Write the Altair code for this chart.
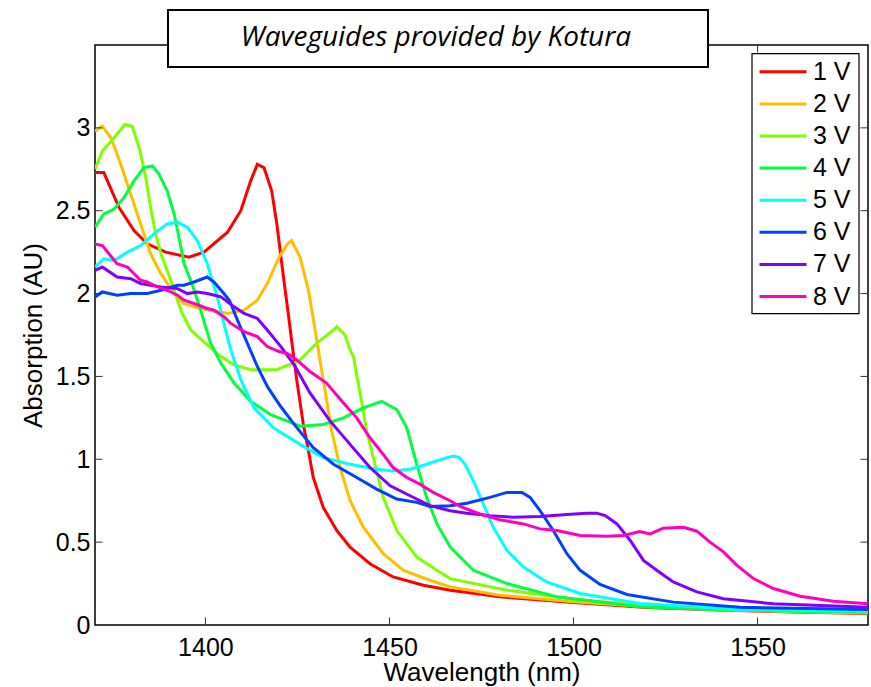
import altair as alt
import pandas as pd

# Absorption spectra of the Kotura waveguides at eight bias voltages
wl_1v = [1370, 1372.4, 1376.5, 1380.6, 1384.2, 1389.2, 1395.5, 1399.6, 1406, 1409.6, 1412.3, 1414.1,
         1415.9, 1418, 1419.4, 1421.2, 1422.5, 1423.4, 1424.8, 1426.6, 1428, 1429.3, 1432, 1435.7,
         1439.3, 1444.7, 1451, 1459.2, 1466.5, 1480, 1500, 1520, 1540, 1560, 1580]
ab_1v = [2.73, 2.73, 2.52, 2.38, 2.30, 2.25, 2.22, 2.25, 2.37, 2.50, 2.68, 2.78,
         2.76, 2.62, 2.42, 2.10, 1.88, 1.72, 1.48, 1.21, 1.05, 0.89, 0.71, 0.57,
         0.47, 0.37, 0.29, 0.24, 0.21, 0.17, 0.135, 0.105, 0.09, 0.078, 0.07]

wl_2v = [1370, 1372, 1374.3, 1377, 1379.7, 1382.4, 1385.1, 1387.9, 1391.5, 1394, 1398.7, 1406,
         1410.5, 1414.1, 1416.8, 1420, 1422.3, 1423.4, 1425.7, 1428, 1429.8, 1432, 1434.3, 1436.6,
         1439.3, 1442.9, 1448.3, 1453.8, 1461, 1466.5, 1480, 1500, 1520, 1540, 1560, 1580]
ab_2v = [2.98, 3.01, 2.94, 2.78, 2.60, 2.42, 2.24, 2.12, 2.00, 1.94, 1.91, 1.88,
         1.90, 1.96, 2.06, 2.22, 2.30, 2.32, 2.22, 2.02, 1.78, 1.48, 1.17, 0.95,
         0.75, 0.59, 0.43, 0.33, 0.27, 0.23, 0.18, 0.14, 0.11, 0.092, 0.08, 0.072]

wl_3v = [1370, 1372, 1375.2, 1378.1, 1380.1, 1382, 1383.8, 1385.1, 1386.5, 1387.9, 1390.6, 1393.5,
         1396, 1400.5, 1404.2, 1407.8, 1412.3, 1416.8, 1419.4, 1421.4, 1424.1, 1425.7, 1430.2, 1434.8,
         1435.7, 1437.9, 1439.3, 1440.2, 1442, 1443.8, 1446.5, 1448.3, 1452, 1457.4, 1462.9, 1466.5,
         1482, 1500, 1520, 1540, 1560, 1580]
ab_3v = [2.75, 2.86, 2.94, 3.02, 3.01, 2.88, 2.70, 2.52, 2.36, 2.24, 2.08, 1.89,
         1.78, 1.69, 1.62, 1.57, 1.54, 1.54, 1.54, 1.56, 1.58, 1.60, 1.70, 1.78,
         1.80, 1.75, 1.66, 1.62, 1.40, 1.17, 0.93, 0.77, 0.57, 0.41, 0.33, 0.28,
         0.21, 0.155, 0.115, 0.095, 0.083, 0.075]

wl_4v = [1370, 1372.4, 1375.2, 1377.9, 1380.6, 1383.3, 1385.6, 1387.4, 1389.6, 1391.5, 1392.8, 1394.2,
         1396.5, 1398.7, 1401.4, 1404.2, 1407.8, 1412.3, 1417.7, 1422.3, 1425.7, 1432, 1437.5, 1442.9,
         1447.9, 1452, 1454.7, 1457.4, 1460.1, 1462.9, 1466.5, 1472.8, 1481.9, 1495.5, 1518, 1540,
         1560, 1580]
ab_4v = [2.40, 2.48, 2.51, 2.58, 2.68, 2.76, 2.77, 2.72, 2.62, 2.48, 2.34, 2.18,
         2.05, 1.90, 1.70, 1.58, 1.46, 1.35, 1.27, 1.23, 1.20, 1.21, 1.25, 1.31,
         1.35, 1.30, 1.19, 0.97, 0.77, 0.61, 0.47, 0.33, 0.25, 0.17, 0.11, 0.092,
         0.083, 0.078]

wl_5v = [1370, 1372.4, 1375.2, 1378.8, 1382.4, 1386, 1389.6, 1392.4, 1395.1, 1397.8, 1400.5, 1403.2,
         1405, 1406.9, 1409.6, 1413.2, 1418.5, 1425.7, 1432, 1439.3, 1446.5, 1451, 1455.6, 1460.1,
         1465.6, 1467.4, 1469, 1470.5, 1472.8, 1475.5, 1478.2, 1481.9, 1486.4, 1492.7, 1501.8, 1518,
         1545.3, 1580]
ab_5v = [2.16, 2.21, 2.20, 2.25, 2.29, 2.36, 2.42, 2.43, 2.40, 2.32, 2.18, 1.98,
         1.82, 1.66, 1.48, 1.31, 1.19, 1.09, 1.01, 0.97, 0.94, 0.93, 0.94, 0.97,
         1.01, 1.02, 1.01, 0.97, 0.87, 0.73, 0.59, 0.45, 0.35, 0.26, 0.19, 0.13,
         0.094, 0.085]

wl_6v = [1370, 1372, 1376, 1379.7, 1384.2, 1387.9, 1392.4, 1394.2, 1396.9, 1400.5, 1402.3, 1405,
         1406.5, 1408.7, 1411.4, 1414.1, 1416.8, 1420.4, 1424.5, 1429.3, 1434.8, 1441.1, 1446.5, 1452,
         1457.4, 1461, 1466.5, 1471, 1477.3, 1481.9, 1486, 1488.2, 1490.9, 1494.5, 1498.2, 1501.8,
         1507.2, 1514.5, 1527.1, 1545.3, 1580]
ab_6v = [1.98, 2.01, 1.99, 2.00, 2.00, 2.02, 2.05, 2.05, 2.07, 2.10, 2.07, 2.00,
         1.96, 1.84, 1.70, 1.56, 1.44, 1.32, 1.20, 1.07, 0.97, 0.89, 0.82, 0.76,
         0.74, 0.715, 0.72, 0.735, 0.77, 0.80, 0.80, 0.77, 0.69, 0.57, 0.43, 0.33,
         0.245, 0.184, 0.138, 0.107, 0.094]

wl_7v = [1370, 1372, 1376, 1379.7, 1382.4, 1387.9, 1392.4, 1395.1, 1397.8, 1400.5, 1404.2, 1407.8,
         1410.5, 1414.1, 1416.8, 1420.5, 1424.1, 1428.4, 1433.9, 1439.3, 1444.7, 1450.2, 1455.6, 1461,
         1466.5, 1471, 1477.3, 1483.7, 1490.9, 1498.2, 1503.6, 1506.3, 1508.6, 1511.8, 1515.4, 1519,
         1522.6, 1527.1, 1533.5, 1540.7, 1554.3, 1580]
ab_7v = [2.14, 2.16, 2.10, 2.09, 2.06, 2.04, 2.03, 2.00, 2.01, 2.00, 1.98, 1.92,
         1.88, 1.85, 1.78, 1.68, 1.57, 1.40, 1.23, 1.09, 0.95, 0.84, 0.78, 0.72,
         0.69, 0.675, 0.66, 0.65, 0.655, 0.667, 0.675, 0.675, 0.66, 0.61, 0.51, 0.39,
         0.33, 0.26, 0.20, 0.158, 0.128, 0.107]

wl_8v = [1370, 1372, 1373.8, 1376, 1378.8, 1380.6, 1382.4, 1384.2, 1386, 1389.6, 1392.4, 1394.2,
         1396.9, 1400.5, 1402.3, 1405, 1406.9, 1410.5, 1414.1, 1416.8, 1420, 1422.1, 1424.8, 1428.4,
         1432.9, 1437.5, 1441.1, 1444.7, 1448.3, 1451, 1454.7, 1458.3, 1461.9, 1466.5, 1469.2, 1474.6,
         1480, 1486.4, 1490.9, 1495.5, 1501.8, 1509, 1513.6, 1518, 1520.8, 1524.4, 1529.9, 1533.5,
         1537.1, 1540.8, 1544.4, 1548.9, 1554.3, 1561.6, 1570.6, 1580]
ab_8v = [2.30, 2.29, 2.24, 2.18, 2.16, 2.12, 2.08, 2.07, 2.05, 2.02, 1.99, 1.96,
         1.94, 1.91, 1.90, 1.86, 1.82, 1.77, 1.74, 1.68, 1.65, 1.64, 1.60, 1.53,
         1.46, 1.34, 1.25, 1.13, 1.03, 0.95, 0.89, 0.85, 0.80, 0.75, 0.715, 0.67,
         0.635, 0.61, 0.58, 0.57, 0.54, 0.536, 0.54, 0.564, 0.55, 0.584, 0.59, 0.566,
         0.50, 0.44, 0.36, 0.28, 0.22, 0.174, 0.144, 0.128]

series_names = ["1 V", "2 V", "3 V", "4 V", "5 V", "6 V", "7 V", "8 V"]
series_colors = ["#ff0000", "#ffbf00", "#80ff00", "#00ff40",
                 "#00ffff", "#0040ff", "#8000ff", "#ff00bf"]
x_tick_values = [1400, 1450, 1500, 1550]
y_tick_values = [0, 0.5, 1, 1.5, 2, 2.5, 3]
y_edge_ticks = [0.5, 1, 1.5, 2, 2.5, 3]
title_text = "Waveguides provided by Kotura"

series = [(wl_1v, ab_1v), (wl_2v, ab_2v), (wl_3v, ab_3v), (wl_4v, ab_4v),
          (wl_5v, ab_5v), (wl_6v, ab_6v), (wl_7v, ab_7v), (wl_8v, ab_8v)]
rows = []
for name, (wls, abs_) in zip(series_names, series):
    for w, a in zip(wls, abs_):
        rows.append({"wavelength": w, "absorption": a, "voltage": name})
df = pd.DataFrame(rows)

W, H = 773, 580
FONT = "Liberation Sans"

x_scale = alt.Scale(domain=[1370, 1580], nice=False, zero=False)
y_scale = alt.Scale(domain=[0, 3.5], nice=False)

x_axis = alt.Axis(title="Wavelength (nm)", values=x_tick_values, format="d",
                  ticks=False, domain=False, grid=False,
                  labelFont=FONT, labelFontSize=25, labelColor="black",
                  labelPadding=10, titleFont=FONT, titleFontSize=26,
                  titleFontWeight="normal", titleColor="black",
                  titleY=55, titleBaseline="alphabetic")
y_axis = alt.Axis(title="Absorption (AU)", values=y_tick_values, format="~g",
                  ticks=False, domain=False, grid=False,
                  labelFont=FONT, labelFontSize=25, labelColor="black",
                  labelPadding=5, titleFont=FONT, titleFontSize=26,
                  titleFontWeight="normal", titleColor="black",
                  titleX=-62, titleY=H / 2, titleBaseline="middle")

# legend swatch: a 47 px horizontal stroke drawn from a small nominal symbol size
swatch_path = "M0,0H4.7"

lines = alt.Chart(df).mark_line(strokeWidth=3, clip=True).encode(
    x=alt.X("wavelength:Q", scale=x_scale, axis=x_axis),
    y=alt.Y("absorption:Q", scale=y_scale, axis=y_axis),
    color=alt.Color("voltage:N",
                    scale=alt.Scale(domain=series_names, range=series_colors),
                    legend=alt.Legend(title=None, orient="none", legendX=652, legendY=14.3,
                                      symbolType=swatch_path, symbolSize=400,
                                      symbolStrokeWidth=3, symbolFillColor="transparent",
                                      labelFont=FONT, labelFontSize=25, labelColor="black",
                                      padding=0, rowPadding=6.1, labelOffset=41)),
    detail="voltage:N",
)

xt = pd.DataFrame({"t": x_tick_values})
yt = pd.DataFrame({"t": y_edge_ticks})
tick_color = "#333333"

x_ticks_bottom = alt.Chart(xt).mark_rule(color=tick_color, strokeWidth=1).encode(
    x=alt.X("t:Q", scale=x_scale), y=alt.value(H), y2=alt.value(H - 7.5))
x_ticks_top = alt.Chart(xt).mark_rule(color=tick_color, strokeWidth=1).encode(
    x=alt.X("t:Q", scale=x_scale), y=alt.value(0), y2=alt.value(7.5))
y_ticks_left = alt.Chart(yt).mark_rule(color=tick_color, strokeWidth=1).encode(
    y=alt.Y("t:Q", scale=y_scale), x=alt.value(0), x2=alt.value(7.5))
y_ticks_right = alt.Chart(yt).mark_rule(color=tick_color, strokeWidth=1).encode(
    y=alt.Y("t:Q", scale=y_scale), x=alt.value(W), x2=alt.value(W - 7.5))

one_row = alt.Data(values=[{"label": title_text}])
title_box = alt.Chart(one_row).mark_rect(
    fill="white", stroke="black", strokeWidth=2, clip=False
).encode(x=alt.value(73), x2=alt.value(613), y=alt.value(-35), y2=alt.value(22))
title_label = alt.Chart(one_row).mark_text(
    font="Open Sans", fontStyle="italic", fontSize=28, color="black",
    align="center", baseline="middle", clip=False
).encode(x=alt.value(341), y=alt.value(-7), text="label:N")
legend_box = alt.Chart(one_row).mark_rect(
    fill="white", stroke="black", strokeWidth=1.2, clip=False
).encode(x=alt.value(657), x2=alt.value(764), y=alt.value(8.6), y2=alt.value(268.6))

chart = alt.layer(
    lines, x_ticks_bottom, x_ticks_top, y_ticks_left, y_ticks_right,
    title_box, title_label, legend_box
).properties(
    width=W, height=H,
    autosize=alt.AutoSizeParams(type="none"),
    padding={"left": 95, "top": 45, "right": 3, "bottom": 62},
    background="white",
).configure_view(stroke="black", strokeWidth=1.5)

chart.save("out.html", embed_options={"renderer": "svg", "actions": False})
